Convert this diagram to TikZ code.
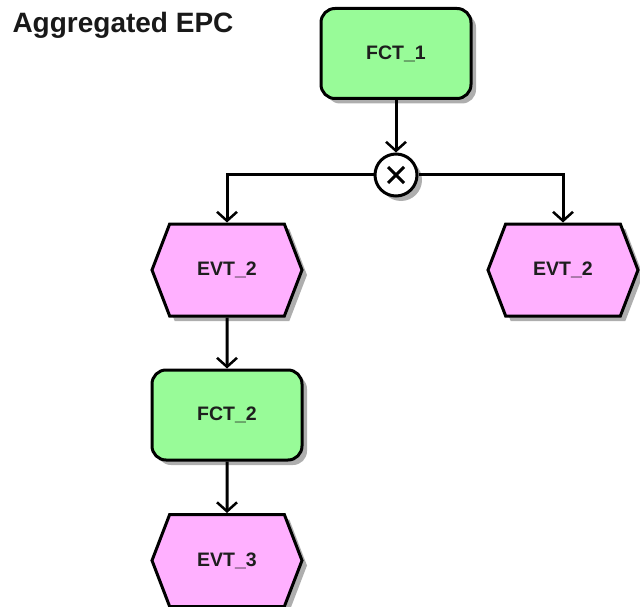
\documentclass[tikz,border=0pt]{standalone}
\usepackage{fontspec}
\setmainfont{Liberation Sans}
\usetikzlibrary{arrows.meta,shapes.symbols,shadows}
\definecolor{fctgreen}{RGB}{152,251,152}
\definecolor{evtpink}{RGB}{255,176,255}
\definecolor{txt}{RGB}{30,30,30}
\begin{document}
\begin{tikzpicture}[x=1pt,y=-1pt,
  shd/.style={drop shadow={shadow xshift=5pt,shadow yshift=-5pt,fill=black!45,opacity=0.7}},
  lbl/.style={font=\fontsize{19.5}{22}\selectfont\bfseries,text=txt},
  fct/.style={draw=black,line width=3pt,fill=fctgreen,rounded corners=14pt,minimum width=150pt,minimum height=90pt,inner sep=0pt,lbl,shd},
  evt/.style={signal,signal to=west and east,signal pointer angle=138,draw=black,line width=3pt,fill=evtpink,minimum width=150pt,minimum height=92pt,inner sep=0pt,lbl,shd},
  xor/.style={circle,draw=black,line width=3pt,fill=white,minimum size=42pt,inner sep=0pt,shd},
  flow/.style={line width=3pt,-{Straight Barb[length=9pt,width=20pt,line width=2.5pt]}}
]
\useasboundingbox (0,0) rectangle (640,607);
\node[anchor=base west,font=\fontsize{28}{30}\selectfont\bfseries,text=black!90] (title) at (9,33) {Aggregated EPC};
\node[fct] (f1) at (396,53.5) {FCT\_1};
\node[xor] (x) at (396,175) {};
\draw[line width=3pt] (x.center) ++(-8,-8) -- ++(16,16);
\draw[line width=3pt] (x.center) ++(-8,8) -- ++(16,-16);
\node[evt] (e2a) at (227,270) {EVT\_2};
\node[evt] (e2b) at (563,270) {EVT\_2};
\node[fct] (f2) at (227,415) {FCT\_2};
\node[evt] (e3) at (227,560.5) {EVT\_3};
\draw[flow] (f1) -- (x);
\draw[flow] (x.west) -| (e2a.north);
\draw[flow] (x.east) -| (e2b.north);
\draw[flow] (e2a) -- (f2);
\draw[flow] (f2) -- (e3);
\end{tikzpicture}
\end{document}
